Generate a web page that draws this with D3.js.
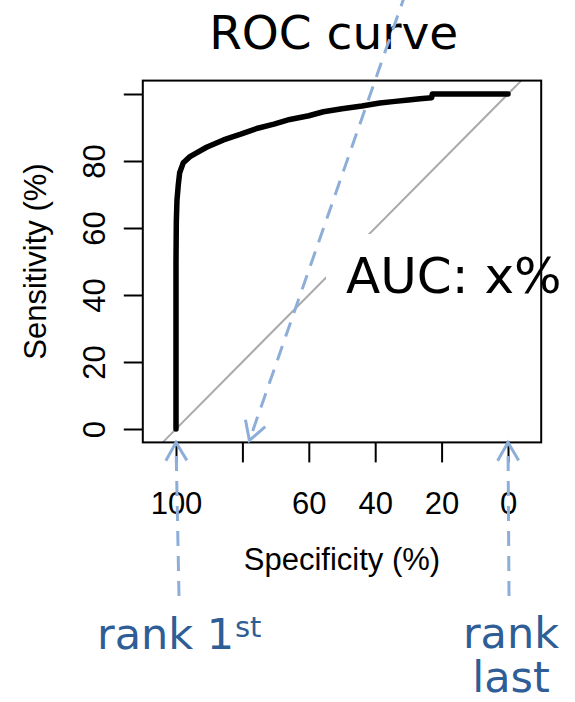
<!DOCTYPE html>
<html><head><meta charset="utf-8">
<script src="https://cdn.jsdelivr.net/npm/d3@7"></script>
<style>body{margin:0;background:#fff}svg{display:block}</style>
</head><body>
<svg id="c" width="575" height="702"></svg>
<script>
// ---- data ----
const specificity = [100, 100, 99.9, 99.7, 99.3, 98.9, 97.8, 95.8, 93, 90.8, 88, 85.7, 80.5, 75.7, 70.5, 65.7, 60, 55.6, 50, 44, 38.6, 34, 30, 26.5, 23, 22.8, 0];
const sensitivity = [0, 50, 62, 68.4, 73, 76.5, 79.5, 81.3, 82.9, 84.1, 85.3, 86.3, 88, 89.7, 91, 92.4, 93.5, 94.7, 95.6, 96.4, 97.3, 97.8, 98.2, 98.6, 98.9, 100, 100];
const xTicks = [100, 80, 60, 40, 20, 0];
const xTickLabels = ["100", "", "60", "40", "20", "0"];
const yTicks = [0, 20, 40, 60, 80, 100];
const yTickLabels = ["0", "20", "40", "60", "80", ""];
const xLimits = [110, -10];
const yLimits = [-4, 104];
const chartTitle = "ROC curve";
const xTitle = "Specificity (%)";
const yTitle = "Sensitivity (%)";
const aucLabel = "AUC: x%";
const rankFirst = ["rank 1", "st"];
const rankLast = ["rank", "last"];
// annotation arrow: specificity where the slanted arrow lands at the frame bottom
const slantArrowSpec = 77.9;

const svg = d3.select("#c");
const x = d3.scaleLinear().domain([100, 0]).range([176, 508]);
const y = d3.scaleLinear().domain([0, 100]).range([429, 94]);
const X0 = x(xLimits[0]), X1 = x(xLimits[1]);
const Y0 = y(yLimits[0]), Y1 = y(yLimits[1]);
const axisFont = "'Liberation Sans', Arial, Helvetica, sans-serif";
const annFont = "'DejaVu Sans', Verdana, sans-serif";
const blue = "#8daed9";
const darkBlue = "#2f5d96";

// title
svg.append("text").attr("x", 333.7).attr("y", 49.3).attr("text-anchor", "middle")
  .attr("font-family", annFont).attr("font-size", 47).attr("fill", "#000").text(chartTitle);

// diagonal reference
svg.append("line")
  .attr("x1", x(100 - yLimits[0])).attr("y1", y(yLimits[0]))
  .attr("x2", x(100 - yLimits[1])).attr("y2", y(yLimits[1]))
  .attr("stroke", "#aaaaaa").attr("stroke-width", 2);

// ROC curve
const pts = specificity.map((s, i) => [s, sensitivity[i]]);
svg.append("path").datum(pts)
  .attr("d", d3.line().x(d => x(d[0])).y(d => y(d[1])))
  .attr("fill", "none").attr("stroke", "#000").attr("stroke-width", 5.5)
  .attr("stroke-linejoin", "round").attr("stroke-linecap", "round");

// white box behind AUC label
svg.append("rect").attr("x", 326).attr("y", 234).attr("width", 249).attr("height", 80).attr("fill", "#fff");
svg.append("text").attr("x", 346).attr("y", 292.7)
  .attr("font-family", annFont).attr("font-size", 50).attr("fill", "#000").text(aucLabel);

// frame
svg.append("rect").attr("x", X0).attr("y", Y1).attr("width", X1 - X0).attr("height", Y0 - Y1)
  .attr("fill", "none").attr("stroke", "#000").attr("stroke-width", 2);

// x axis
const gx = svg.append("g").attr("transform", `translate(0,${Y0})`)
  .call(d3.axisBottom(x).tickValues(xTicks).tickSize(20).tickFormat((d, i) => xTickLabels[i]));
gx.select(".domain").remove();
gx.selectAll(".tick line").attr("stroke", "#000").attr("stroke-width", 2);
gx.selectAll(".tick text").attr("y", 514 - Y0).attr("dy", null)
  .attr("font-family", axisFont).attr("font-size", 31).attr("fill", "#000");

// y axis
const gy = svg.append("g").attr("transform", `translate(${X0},0)`)
  .call(d3.axisLeft(y).tickValues(yTicks).tickSize(19).tickFormat((d, i) => yTickLabels[i]));
gy.select(".domain").remove();
gy.selectAll(".tick line").attr("stroke", "#000").attr("stroke-width", 2);
gy.selectAll(".tick text").attr("x", null).attr("dy", null).attr("text-anchor", "middle")
  .attr("transform", `translate(${105 - X0},0) rotate(-90)`)
  .attr("font-family", axisFont).attr("font-size", 31).attr("fill", "#000");

// axis titles
svg.append("text").attr("x", (X0 + X1) / 2).attr("y", 570).attr("text-anchor", "middle")
  .attr("font-family", axisFont).attr("font-size", 31).attr("fill", "#000").text(xTitle);
svg.append("text").attr("transform", `translate(46,${(Y0 + Y1) / 2}) rotate(-90)`).attr("text-anchor", "middle")
  .attr("font-family", axisFont).attr("font-size", 31).attr("fill", "#000").text(yTitle);

// annotation arrows
function arrow(x1, y1, x2, y2) {
  const g = svg.append("g").attr("stroke", blue).attr("stroke-width", 3).attr("fill", "none");
  g.append("line").attr("x1", x1).attr("y1", y1).attr("x2", x2).attr("y2", y2)
    .attr("stroke-dasharray", "15,10");
  const ang = Math.atan2(y1 - y2, x1 - x2);
  const L = 21, a = Math.PI / 6;
  g.append("path").attr("d",
    `M${x2 + L * Math.cos(ang + a)},${y2 + L * Math.sin(ang + a)}L${x2},${y2}L${x2 + L * Math.cos(ang - a)},${y2 + L * Math.sin(ang - a)}`)
    .attr("stroke-linejoin", "miter");
}
arrow(179, 596, x(100), Y0);
arrow(509, 596, x(0), Y0);
arrow(406, -8, x(slantArrowSpec), Y0 - 2);

// rank labels
const t1 = svg.append("text").attr("x", 97).attr("y", 649.3)
  .attr("font-family", annFont).attr("font-size", 43).attr("fill", darkBlue);
t1.append("tspan").text(rankFirst[0]);
t1.append("tspan").attr("x", 235).attr("y", 637).attr("font-size", 29).text(rankFirst[1]);

const t2 = svg.append("text").attr("text-anchor", "middle")
  .attr("font-family", annFont).attr("font-size", 43).attr("fill", darkBlue);
t2.append("tspan").attr("x", 511).attr("y", 648).text(rankLast[0]);
t2.append("tspan").attr("x", 511).attr("y", 692).text(rankLast[1]);
</script>
</body></html>
